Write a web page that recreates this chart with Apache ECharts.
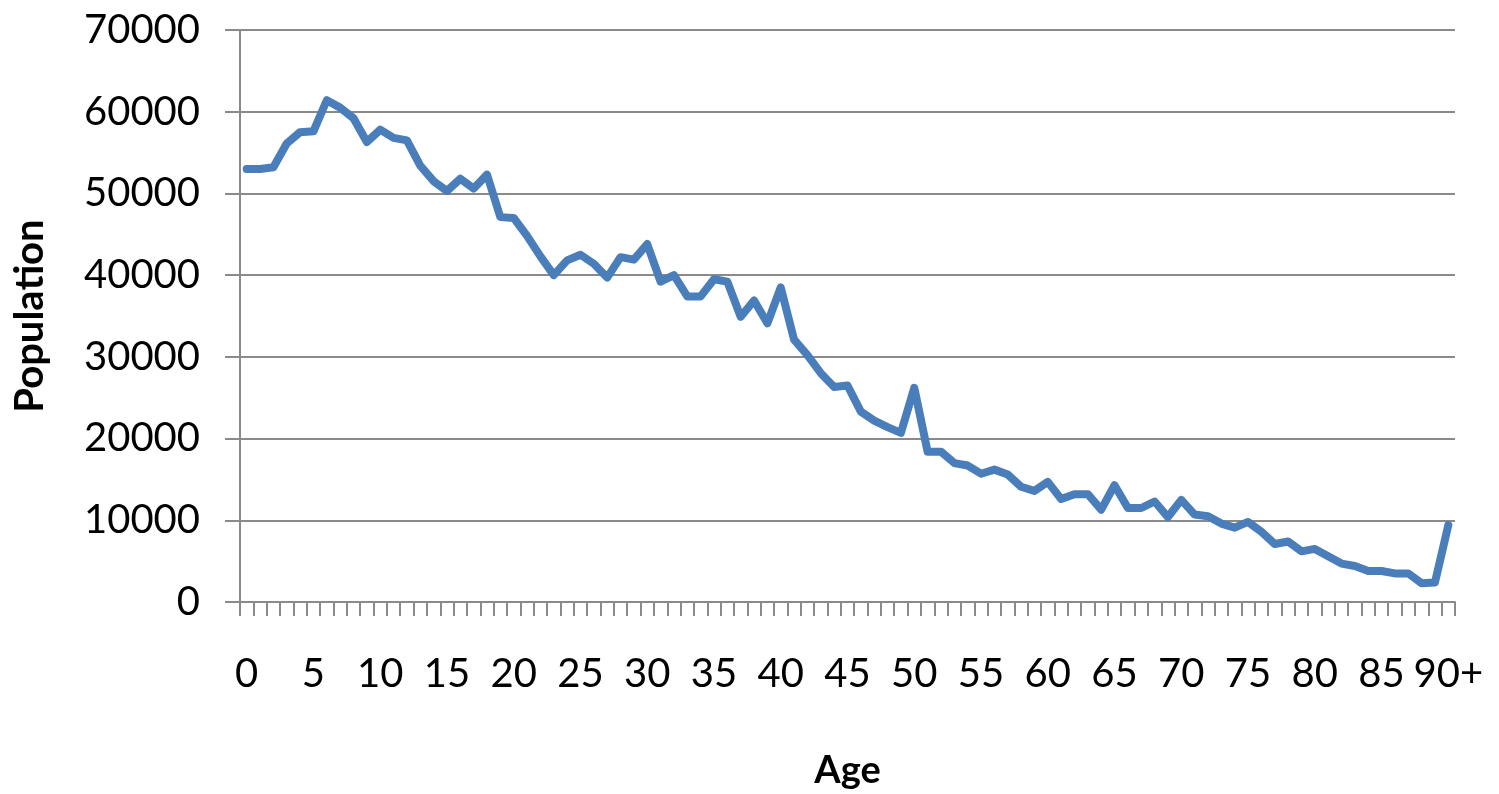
<!DOCTYPE html>
<html>
<head>
<meta charset="utf-8">
<script src="https://cdn.jsdelivr.net/npm/echarts@6/dist/echarts.min.js"></script>
<style>
html,body{margin:0;padding:0;background:#fff;}
#chart{width:1499px;height:794px;}
</style>
</head>
<body>
<div id="chart"></div>
<script>
const ages = ['0','1','2','3','4','5','6','7','8','9','10','11','12','13','14','15','16','17','18','19','20','21','22','23','24','25','26','27','28','29','30','31','32','33','34','35','36','37','38','39','40','41','42','43','44','45','46','47','48','49','50','51','52','53','54','55','56','57','58','59','60','61','62','63','64','65','66','67','68','69','70','71','72','73','74','75','76','77','78','79','80','81','82','83','84','85','86','87','88','89','90+'];
const population = [53000,53000,53200,56100,57500,57600,61400,60500,59200,56300,57800,56800,56500,53400,51500,50300,51800,50600,52300,47100,47000,44800,42300,40000,41800,42500,41400,39700,42200,41900,43800,39200,40000,37400,37400,39500,39200,34900,36900,34100,38500,32100,30200,28000,26300,26500,23300,22200,21400,20700,26200,18400,18400,17000,16700,15700,16200,15600,14100,13600,14700,12600,13200,13200,11300,14300,11500,11500,12300,10400,12500,10700,10500,9600,9100,9800,8600,7100,7400,6200,6500,5600,4700,4400,3800,3800,3500,3500,2300,2400,9400];
const yTicks = [0,10000,20000,30000,40000,50000,60000,70000];
const xTitle = 'Age';
const yTitle = 'Population';

const chart = echarts.init(document.getElementById('chart'));
const font = 'Lato, "Open Sans", sans-serif';
chart.setOption({
  animation: false,
  backgroundColor: '#ffffff',
  grid: {left: 240, right: 44, top: 30, bottom: 192, containLabel: false, outerBoundsMode: 'none'},
  xAxis: {
    type: 'category',
    data: ages,
    boundaryGap: true,
    name: xTitle,
    nameLocation: 'middle',
    nameGap: 150,
    nameTextStyle: {fontFamily: font, fontSize: 38, fontWeight: 'bold', color: '#000'},
    axisLine: {lineStyle: {color: '#8a8a8a', width: 2}},
    axisTick: {show: true, interval: 0, length: 14, lineStyle: {color: '#8a8a8a', width: 2}},
    axisLabel: {interval: 4, margin: 52, fontFamily: font, fontSize: 40, color: '#000'},
    splitLine: {show: false}
  },
  yAxis: {
    type: 'value',
    min: yTicks[0],
    max: yTicks[yTicks.length - 1],
    interval: 10000,
    name: yTitle,
    nameLocation: 'middle',
    nameGap: 190,
    nameTextStyle: {fontFamily: font, fontSize: 40, fontWeight: 'bold', color: '#000'},
    axisLine: {show: true, lineStyle: {color: '#8a8a8a', width: 2}},
    axisTick: {show: true, length: 15, lineStyle: {color: '#8a8a8a', width: 2}},
    axisLabel: {margin: 40, fontFamily: font, fontSize: 40, color: '#000', formatter: function (v) { return String(v); }},
    splitLine: {show: true, lineStyle: {color: '#8a8a8a', width: 2}}
  },
  series: [{
    type: 'line',
    data: population,
    symbol: 'none',
    lineStyle: {color: '#4a7ebb', width: 8, join: 'round', cap: 'round'},
    itemStyle: {color: '#4a7ebb'}
  }]
});
</script>
</body>
</html>
